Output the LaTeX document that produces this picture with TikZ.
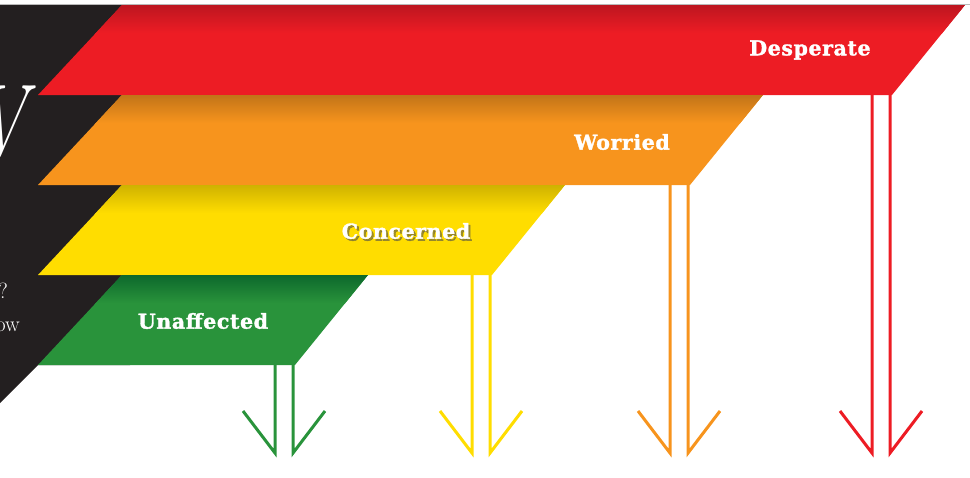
\documentclass[tikz,border=0pt]{standalone}
\usepackage{fontspec}
\newfontfamily\slabfont{DejaVu Serif}[LetterSpace=3,BoldFeatures={FakeBold=1.6}]
\usetikzlibrary{calc}

\definecolor{panelblack}{HTML}{231F20}
\definecolor{despred}{HTML}{ED1C24}
\definecolor{desptop}{HTML}{BD1620}
\definecolor{worryorange}{HTML}{F7941D}
\definecolor{worrytop}{HTML}{C27418}
\definecolor{concyellow}{HTML}{FFDD00}
\definecolor{conctop}{HTML}{CFB200}
\definecolor{unaffgreen}{HTML}{29933B}
\definecolor{unafftop}{HTML}{0D682C}

\begin{document}
\begin{tikzpicture}[x=1pt,y=-1pt,
   level/.style={text=white,inner sep=0pt,font=\slabfont\bfseries\fontsize{20.5}{20.5}\selectfont},
   downarrow/.style={line width=3pt,line join=miter},
   sidetext/.style={text=white,inner sep=0pt,font=\fontsize{22}{22}\selectfont}]
  \useasboundingbox (0,0) rectangle (970,477);
  \draw[gray!55,line width=1.2pt] (0,4.3) -- (970,4.3);
  % black panel behind the bands
  \fill[panelblack] (0,5) -- (130,5) -- (130,365) -- (38,365) -- (0,403) -- cycle;
  \node[anchor=north east,inner sep=0pt,text=white,
        font=\fontsize{102}{102}\selectfont\itshape] (bigletter) at (27,86) {\scalebox{0.72}[1]{V}};
  \node[sidetext,anchor=base east] (question) at (8,298) {?};
  \node[sidetext,anchor=base east] (lineend) at (20,331) {ow};
  % bands
  \foreach \name/\yt/\rt/\col/\topcol in
     {desp/5/965/despred/desptop, worry/95/763/worryorange/worrytop,
      conc/185/565/concyellow/conctop, unaff/275/368/unaffgreen/unafftop}{
    \begin{scope}
      \clip (122,\yt) -- (\rt,\yt) -- (\rt-73,\yt+90) -- (38,\yt+90) -- cycle;
      \fill[\col] (0,\yt) rectangle (970,\yt+91);
      \shade[top color=\topcol,bottom color=\col] (0,\yt) rectangle (970,\yt+28);
    \end{scope}
    \coordinate (\name-ls) at (\rt-93,\yt+90);
    \coordinate (\name-rs) at (\rt-75,\yt+90);
    \coordinate (\name-lt) at (\rt-93,453);
    \coordinate (\name-rt) at (\rt-75,453);
    \coordinate (\name-la) at (\rt-125,411);
    \coordinate (\name-ra) at (\rt-43,411);
    \draw[downarrow,\col] (\name-ls) -- (\name-lt) -- (\name-la);
    \draw[downarrow,\col] (\name-rs) -- (\name-rt) -- (\name-ra);
  }
  % labels
  \node[level] (desp-label) at (810,50) {Desperate};
  \node[level] (worry-label) at (622,142) {Worried};
  \node[level,text=black!70,opacity=0.55] (conc-shadow) at (408,233) {Concerned};
  \node[level] (conc-label) at (406,231) {Concerned};
  \node[level] (unaff-label) at (203,321) {Unaffected};
\end{tikzpicture}
\end{document}
